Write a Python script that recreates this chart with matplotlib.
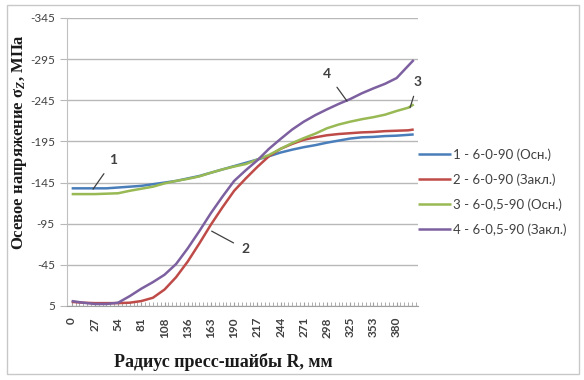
import numpy as np
import matplotlib
matplotlib.use("Agg")
import matplotlib.pyplot as plt
from matplotlib.patches import Rectangle
from matplotlib.ticker import FixedLocator

# radius of the press washer, mm
radius = [0, 13.6, 27.1, 40.7, 54.3, 67.9, 81.4, 95, 108.6, 122.1, 135.7, 149.3,
          162.9, 176.4, 190, 203.6, 217.1, 230.7, 244.3, 257.9, 271.4, 285,
          298.6, 312.1, 325.7, 339.3, 352.9, 366.4, 380, 393.6, 400]

# axial stress, MPa
s1 = [-138, -138, -138, -138, -139, -140, -141, -143, -145, -147, -150, -153,
      -157, -161, -165, -169, -173, -177, -181.5, -185, -188, -190.5,
      -193.5, -196, -198.5, -200, -200.5, -201.5, -202, -203, -203.5]
s2 = [0, 1, 1.5, 1.5, 1.5, 1, -1, -5, -15, -30, -49, -71,
      -94, -115, -135, -150, -164, -177, -186, -192, -197, -200,
      -202.5, -204, -205, -206, -206.5, -207.5, -208, -208.5, -209.5]
s3 = [-131, -131, -131, -131.5, -132, -135, -137.5, -140, -144, -147, -149.5, -152.5,
      -157, -161, -164.5, -167.5, -173, -178.5, -186, -193, -199, -204.5,
      -211, -215.5, -219, -222, -224.5, -227.5, -232, -236, -240]
s4 = [-1, 1, 2.5, 2.5, 1, -7, -16, -24, -33, -46, -65, -86,
      -108, -128, -147, -160, -172, -186, -198, -209.5, -219, -227,
      -234, -240.5, -246.5, -253.5, -259.5, -265, -272, -287, -294]

names = ["1 - 6-0-90 (Осн.)", "2 - 6-0-90 (Закл.)",
         "3 - 6-0,5-90 (Осн.)", "4 - 6-0,5-90 (Закл.)"]
colors = ["#4a7ebb", "#be4b48", "#98b954", "#7d60a0"]

x_labels = ["0", "27", "54", "81", "108", "136", "163", "190", "217", "244",
            "271", "298", "325", "353", "380"]
y_ticks = [5, -45, -95, -145, -195, -245, -295, -345]

plt.rcParams['mathtext.fontset'] = 'custom'
plt.rcParams['mathtext.rm'] = 'Liberation Serif:bold'
plt.rcParams['mathtext.it'] = 'Liberation Serif:bold:italic'

fig = plt.figure(figsize=(5.84, 3.8), dpi=100)
ax = fig.add_axes([67.3/584, 1-306/380, (418-67.3)/584, (306-18)/380])

for ys, c, n in zip([s1, s2, s3, s4], colors, names):
    ax.plot(radius, ys, color=c, lw=1.8, label=n, solid_capstyle='butt')

ax.set_xlim(-5.1, 405)
ax.set_ylim(5, -345)

ax.set_yticks(y_ticks)
ax.set_yticklabels([str(v) for v in y_ticks], fontsize=8.5, family='Lato', color='#404040')
ax.yaxis.grid(True, color='#b8b8b8', lw=1)
ax.tick_params(axis='y', length=5, color='#b8b8b8', pad=4)

xt = [i*380/14 for i in range(15)]
ax.set_xticks(xt)
ax.set_xticklabels(x_labels, rotation=90, fontsize=8.5, family='Lato',
                   fontweight='bold', color='#404040')
ax.xaxis.set_minor_locator(FixedLocator(np.arange(0, 405, 380/84)))
ax.tick_params(axis='x', which='both', direction='in', length=3, color='#a0a0a0', pad=8)

for s in ['top', 'right']:
    ax.spines[s].set_visible(False)
ax.spines['left'].set_color('#c0c0c0')
ax.spines['bottom'].set_color('#a0a0a0')
ax.set_axisbelow(True)

# curve numbers with pointer lines
ann = dict(fontsize=10, family='Lato', fontweight='bold', color='#404040',
           ha='center', va='center', annotation_clip=False)
arr = dict(arrowstyle='-', color='#404040', lw=0.9, shrinkA=4, shrinkB=0)
ax.annotate("1", xy=(25, -137), xytext=(48.7, -172), arrowprops=arr, **ann)
ax.annotate("2", xy=(163.7, -86), xytext=(203, -64), arrowprops=arr, **ann)
ax.annotate("4", xy=(322, -244), xytext=(299, -277), arrowprops=arr, **ann)
ax.annotate("3", xy=(395.7, -236), xytext=(405, -267), arrowprops=arr, **ann)

leg = ax.legend(loc='upper left', bbox_to_anchor=(418/584, 1-148/380),
                bbox_transform=fig.transFigure, frameon=False, borderpad=0,
                borderaxespad=0, handlelength=2.5, handletextpad=0.15,
                labelspacing=0.95, prop={'family': 'Lato', 'size': 9.5})
for t in leg.get_texts():
    t.set_color('#404040')

fig.text(20/584, 1-142/380, 'Осевое напряжение σ$_Z$, МПа', rotation=90,
         ha='center', va='center', family='Liberation Serif', fontweight='bold',
         fontsize=12, color='#1a1a1a')
fig.text(223/584, 1-362/380, 'Радиус пресс-шайбы R, мм', ha='center', va='center',
         family='Liberation Serif', fontweight='bold', fontsize=13, color='#1a1a1a')

fig.patches.append(Rectangle((7/584, 1-374/380), (579-7)/584, (374-5)/380,
                             transform=fig.transFigure, fill=False,
                             ec='#c8c8c8', lw=1))

fig.savefig("out.png", dpi=100)
